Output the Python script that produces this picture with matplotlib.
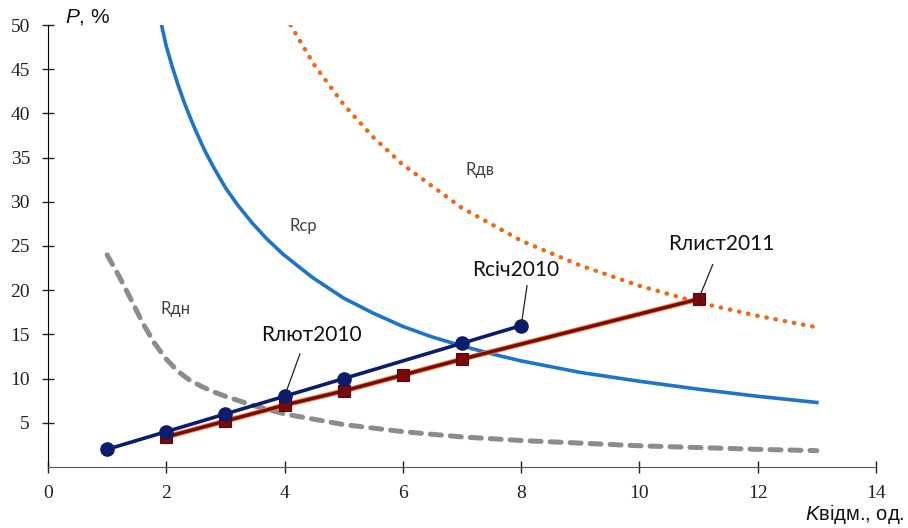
import matplotlib
matplotlib.use("Agg")
import matplotlib.pyplot as plt

plt.rcParams['font.family'] = ['Liberation Serif']
plt.rcParams['mathtext.fontset'] = 'custom'
plt.rcParams['mathtext.rm'] = 'Liberation Sans'
plt.rcParams['mathtext.it'] = 'Liberation Sans:italic'

k_cp = [1.92, 2.0, 2.1, 2.2, 2.3, 2.4, 2.5, 2.65, 2.8, 3.0, 3.2, 3.44, 3.7, 3.97, 4.25, 4.48, 4.75,
        5.0, 5.5, 6.0, 6.5, 7.0, 7.5, 8.0, 9.0, 10.0, 11.0, 12.0, 13.0]
r_cp = [50.0, 47.6, 45.3, 43.2, 41.3, 39.6, 38.0, 35.8, 33.9, 31.6, 29.7, 27.7, 25.8, 24.1, 22.6, 21.4, 20.2,
        19.1, 17.4, 15.9, 14.7, 13.7, 12.8, 12.0, 10.7, 9.7, 8.8, 8.0, 7.3]

k_dv = [4.1, 4.5, 5.0, 5.5, 6.0, 7.0, 8.0, 9.0, 10.0, 11.0, 12.0, 13.0]
r_dv = [50.0, 45.5, 41.0, 37.3, 34.2, 29.3, 25.6, 22.8, 20.5, 18.6, 17.1, 15.8]

k_dn = [1.0, 1.2, 1.4, 1.6, 1.8, 2.0, 2.2, 2.4, 2.6, 2.8, 3.0, 3.5, 4.0, 5.0, 6.0, 7.0, 8.0,
        9.0, 10.0, 11.0, 12.0, 13.0]
r_dn = [24.0, 21.6, 19.0, 16.3, 14.0, 12.2, 10.8, 9.8, 9.1, 8.5, 8.0, 6.9, 6.0, 4.8, 4.0, 3.4, 3.0,
        2.7, 2.4, 2.2, 2.0, 1.85]

k_sich = [1, 2, 3, 4, 5, 7, 8]
r_sich = [2, 4, 6, 8, 10, 14, 16]

k_lyst = [2, 3, 4, 5, 6, 7, 11]
r_lyst = [3.4, 5.2, 7.0, 8.6, 10.4, 12.2, 19.0]

fig = plt.figure(figsize=(9.08, 5.28), dpi=100)
ax = fig.add_axes([48/908, 61/528, 828/908, 442/528])

ax.plot(k_cp, r_cp, color="#1C75C8", lw=2.6)
ax.plot(k_dv, r_dv, color="#EE6A1A", lw=3.2, linestyle=(0, (0.1, 2.0)), dash_capstyle='round')
ax.plot(k_dn, r_dn, color="#8C8C8C", lw=3.6, linestyle=(0, (2.2, 1.8)), dash_capstyle='round')

# orange rim under the dark red line
ax.plot(k_lyst, r_lyst, color="#E8803A", lw=3.8, zorder=2.5)
ax.plot(k_lyst, r_lyst, color="#7A0A0A", lw=2.4, marker='s', markersize=9,
        markeredgecolor="#5A0505", markeredgewidth=0.8, zorder=3)
ax.plot(k_sich, r_sich, color="#0B1D6B", lw=2.6, marker='o', markersize=9.5,
        markeredgecolor="#0B1D6B", zorder=4)

lab_font = dict(family=['Lato', 'Open Sans', 'DejaVu Sans'], fontsize=15, color="#111111")
small_font = dict(family=['Lato', 'Open Sans', 'DejaVu Sans'], fontsize=12, color="#404040")

ax.text(4.46, 14.9, "Rлют2010", ha='center', va='center', **lab_font)
ax.plot([4.0, 4.26], [8.0, 12.8], color="#222222", lw=0.9, zorder=5)
ax.text(7.91, 22.3, "Rсіч2010", ha='center', va='center', **lab_font)
ax.plot([8.0, 8.10], [16.0, 20.5], color="#222222", lw=0.9, zorder=5)
ax.text(11.38, 25.2, "Rлист2011", ha='center', va='center', **lab_font)
ax.plot([11.0, 11.24], [19.0, 22.9], color="#222222", lw=0.9, zorder=5)

ax.text(4.31, 27.3, "Rср", ha='center', va='center', **small_font)
ax.text(2.15, 17.9, "Rдн", ha='center', va='center', **small_font)
ax.text(7.30, 33.6, "Rдв", ha='center', va='center', **small_font)

ax.set_xlim(0, 14)
ax.set_ylim(0, 50)
ax.set_xticks(range(0, 15, 2))
ax.set_yticks(range(5, 51, 5))
for s in ['top', 'right']:
    ax.spines[s].set_visible(False)
ax.spines['left'].set_color('black')
ax.spines['bottom'].set_color('#555555')
ax.tick_params(axis='both', direction='inout', length=8, width=1, pad=9,
               labelsize=14, colors='#222222')

fig.text(65/908, 1 - 17/528, "$P$, %", family='Liberation Sans', fontsize=15,
         ha='left', va='center', color='#111111')
fig.text(905/908, 1 - 514/528, "$K$відм., од.", family='Liberation Sans', fontsize=14.5,
         ha='right', va='center', color='#111111')

fig.savefig("out.png", dpi=100)
